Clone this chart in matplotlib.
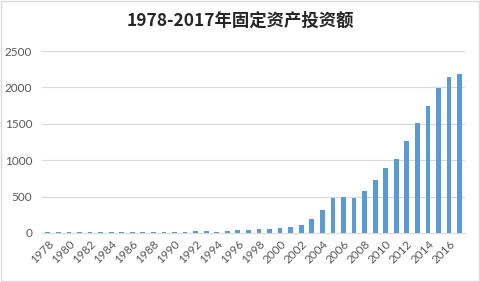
import matplotlib.pyplot as plt
from matplotlib.patches import Rectangle

# 固定资产投资额 1978-2017
years = list(range(1978, 2018))
values = [6, 7, 8, 8, 9, 10, 11, 12, 12, 13, 14, 14,
          15, 18, 22, 20, 19, 22, 41, 46, 50, 55, 69, 87,
          110, 193, 317, 482, 496, 482, 580, 733, 895, 1021,
          1264, 1509, 1741, 1995, 2150, 2182]
tick_labels = [str(y) for y in years[::2]]

plt.rcParams['font.family'] = ['Lato', 'Noto Sans CJK SC', 'DejaVu Sans']

fig = plt.figure(figsize=(4.8, 2.82), dpi=100)
ax = fig.add_axes([0.0875, 0.174, 0.881, 0.645])

x = list(range(len(years)))
ax.bar(x, values, width=0.45, color='#5B9BD5', zorder=3)

ax.set_ylim(0, 2500)
ax.set_yticks([0, 500, 1000, 1500, 2000, 2500])
ax.set_xlim(-0.55, 39.5)
ax.set_xticks(x[::2])
ax.set_xticklabels(tick_labels, rotation=45, ha='right', rotation_mode='anchor')

ax.grid(axis='y', color='#D9D9D9', linewidth=0.8, zorder=0)
for s in ['top', 'right', 'left']:
    ax.spines[s].set_visible(False)
ax.spines['bottom'].set_color('#D9D9D9')
ax.tick_params(axis='both', length=0, colors='#595959', labelsize=8.5)
ax.tick_params(axis='x', pad=4)
ax.tick_params(axis='y', pad=7)

fig.text(0.5, 0.925, '1978-2017年固定资产投资额', ha='center', va='center',
         fontsize=12.5, fontweight='bold', color='#262626',
         family=['Noto Sans CJK SC', 'DejaVu Sans'])

fig.patches.append(Rectangle((0.002, 0.003), 0.996, 0.994, transform=fig.transFigure,
                             fill=False, edgecolor='#D9D9D9', linewidth=1))

fig.savefig('out.png', dpi=100, facecolor='white')
